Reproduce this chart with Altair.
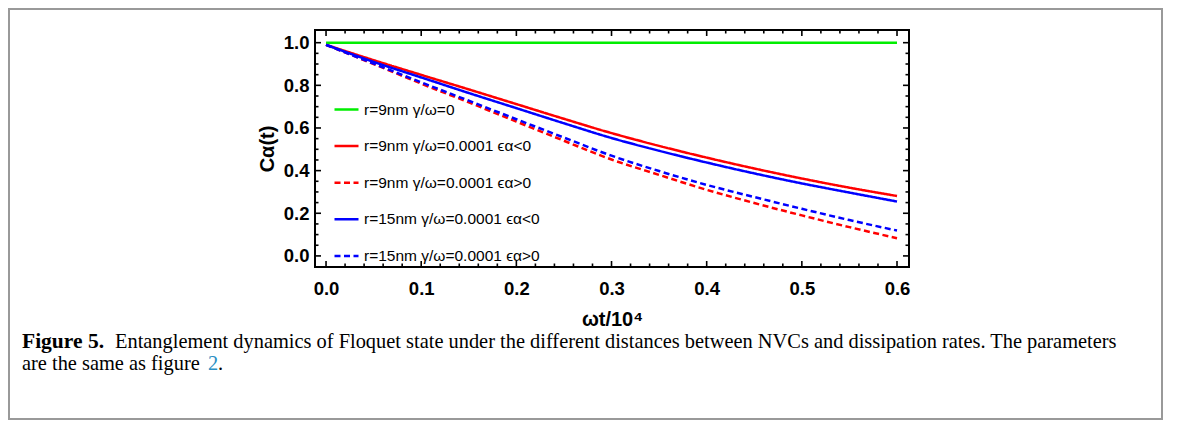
import altair as alt
import pandas as pd

# ---- data ----
x_vals = [0.0, 0.05, 0.1, 0.15, 0.2, 0.25, 0.3, 0.35, 0.4, 0.45, 0.5, 0.55, 0.6]
green = [1.0] * 13
red_solid = [0.99, 0.918, 0.849, 0.781, 0.712, 0.643, 0.576, 0.516, 0.461, 0.41, 0.363, 0.32, 0.281]
blue_solid = [0.99, 0.91, 0.837, 0.764, 0.693, 0.622, 0.553, 0.493, 0.438, 0.387, 0.34, 0.297, 0.255]
red_dashed = [0.99, 0.9, 0.808, 0.72, 0.63, 0.54, 0.452, 0.38, 0.31, 0.248, 0.19, 0.135, 0.083]
blue_dashed = [0.99, 0.902, 0.814, 0.728, 0.641, 0.555, 0.47, 0.398, 0.333, 0.276, 0.221, 0.168, 0.119]

series_names = [
    "r=9nm γ/ω=0",
    "r=9nm γ/ω=0.0001 ϵα<0",
    "r=9nm γ/ω=0.0001 ϵα>0",
    "r=15nm γ/ω=0.0001 ϵα<0",
    "r=15nm γ/ω=0.0001 ϵα>0",
]
series_values = [green, red_solid, red_dashed, blue_solid, blue_dashed]
series_colors = ["#00ee00", "#ff0000", "#ff0000", "#0000ff", "#0000ff"]
series_dash = [[1, 0], [1, 0], [6, 3.5], [1, 0], [6, 3.5]]

x_major = [0.0, 0.1, 0.2, 0.3, 0.4, 0.5, 0.6]
x_minor = [0.02, 0.04, 0.06, 0.08, 0.12, 0.14, 0.16, 0.18, 0.22, 0.24, 0.26, 0.28,
           0.32, 0.34, 0.36, 0.38, 0.42, 0.44, 0.46, 0.48, 0.52, 0.54, 0.56, 0.58]
y_major = [0.0, 0.2, 0.4, 0.6, 0.8, 1.0]
y_minor = [0.05, 0.1, 0.15, 0.25, 0.3, 0.35, 0.45, 0.5, 0.55, 0.65, 0.7, 0.75, 0.85, 0.9, 0.95]

x_title = "ωt/10⁴"
y_title = "Cα(t)"
cap_bold = "Figure 5."
cap_line1 = "Entanglement dynamics of Floquet state under the different distances between NVCs and dissipation rates. The parameters"
cap_line2 = "are the same as figure"
cap_ref = "2"
cap_end = "."

X_DOMAIN = [-0.0116, 0.6126]
Y_DOMAIN = [-0.052, 1.0595]
W, H = 594, 237

rows = []
for name, vals in zip(series_names, series_values):
    for xv, yv in zip(x_vals, vals):
        rows.append({"series": name, "x": xv, "y": yv})
df = pd.DataFrame(rows)

xs = alt.Scale(domain=X_DOMAIN, nice=False, zero=False)
ys = alt.Scale(domain=Y_DOMAIN, nice=False, zero=False)
FONT = "Liberation Sans"

lines = alt.Chart(df).mark_line(strokeWidth=2.5, strokeCap="butt", interpolate="monotone").encode(
    x=alt.X("x:Q", scale=xs, title=x_title,
            axis=alt.Axis(values=x_major, format=".1f", ticks=False, domain=False, grid=False,
                          labelFont=FONT, labelFontSize=18.5, labelFontWeight="bold",
                          labelPadding=12, labelColor="black",
                          titleFont=FONT, titleFontSize=20, titleFontWeight="bold",
                          titlePadding=12, titleColor="black")),
    y=alt.Y("y:Q", scale=ys, title=y_title,
            axis=alt.Axis(values=y_major, format=".1f", ticks=False, domain=False, grid=False,
                          labelFont=FONT, labelFontSize=18.5, labelFontWeight="bold",
                          labelPadding=6, labelColor="black",
                          titleFont=FONT, titleFontSize=20, titleFontWeight="bold",
                          titlePadding=6, titleColor="black")),
    color=alt.Color("series:N", sort=series_names,
                    scale=alt.Scale(domain=series_names, range=series_colors), title=None),
    strokeDash=alt.StrokeDash("series:N", sort=series_names,
                              scale=alt.Scale(domain=series_names, range=series_dash), title=None),
    order=alt.Order("x:Q"),
)

def tick_layer(vals, axis, side, length):
    d = pd.DataFrame({"v": vals})
    base = alt.Chart(d).mark_rule(color="black", strokeWidth=1.6)
    if axis == "x":
        if side == "bottom":
            return base.encode(x=alt.X("v:Q", scale=xs), y=alt.value(H), y2=alt.value(H - length))
        return base.encode(x=alt.X("v:Q", scale=xs), y=alt.value(0), y2=alt.value(length))
    if side == "left":
        return base.encode(y=alt.Y("v:Q", scale=ys), x=alt.value(0), x2=alt.value(length))
    return base.encode(y=alt.Y("v:Q", scale=ys), x=alt.value(W), x2=alt.value(W - length))

ticks = [
    tick_layer(x_major, "x", "bottom", 6), tick_layer(x_major, "x", "top", 6),
    tick_layer(x_minor, "x", "bottom", 3.5), tick_layer(x_minor, "x", "top", 3.5),
    tick_layer(y_major, "y", "left", 6), tick_layer(y_major, "y", "right", 6),
    tick_layer(y_minor, "y", "left", 3.5), tick_layer(y_minor, "y", "right", 3.5),
]

one = pd.DataFrame({"a": [0]})
SERIF = "Liberation Serif"
CS = 20.4
Y1, Y2 = 318, 340
cap1b = alt.Chart(one).mark_text(text=cap_bold, font=SERIF, fontSize=21.5, fontWeight="bold",
                                 align="left", baseline="alphabetic", color="black").encode(
    x=alt.value(-293), y=alt.value(Y1))
cap1 = alt.Chart(one).mark_text(text=cap_line1, font=SERIF, fontSize=CS,
                                align="left", baseline="alphabetic", color="black").encode(
    x=alt.value(-200), y=alt.value(Y1))
cap2 = alt.Chart(one).mark_text(text=cap_line2, font=SERIF, fontSize=CS,
                                align="left", baseline="alphabetic", color="black").encode(
    x=alt.value(-293), y=alt.value(Y2))
cap2r = alt.Chart(one).mark_text(text=cap_ref, font=SERIF, fontSize=CS,
                                 align="left", baseline="alphabetic", color="#2a8fc4").encode(
    x=alt.value(-107), y=alt.value(Y2))
cap2e = alt.Chart(one).mark_text(text=cap_end, font=SERIF, fontSize=CS,
                                 align="left", baseline="alphabetic", color="black").encode(
    x=alt.value(-97), y=alt.value(Y2))
border = alt.Chart(one).mark_rect(fillOpacity=0, stroke="#999999", strokeWidth=2).encode(
    x=alt.value(-306), x2=alt.value(847), y=alt.value(-21), y2=alt.value(389))

chart = alt.layer(border, lines, *ticks, cap1b, cap1, cap2, cap2r, cap2e).properties(
    width=W, height=H,
    autosize=alt.AutoSizeParams(type="none"),
    padding={"left": 307, "top": 22, "right": 262, "bottom": 153},
    background="white",
).configure_view(stroke="black", strokeWidth=2).configure_legend(
    orient="none", legendX=18, legendY=66,
    symbolType="stroke", symbolSize=576, symbolStrokeWidth=2.5,
    labelFont=FONT, labelFontSize=15.5, labelColor="black", labelOffset=4,
    rowPadding=14.6, labelLimit=400,
)

chart.save("out.html", embed_options={"renderer": "svg", "actions": False})
